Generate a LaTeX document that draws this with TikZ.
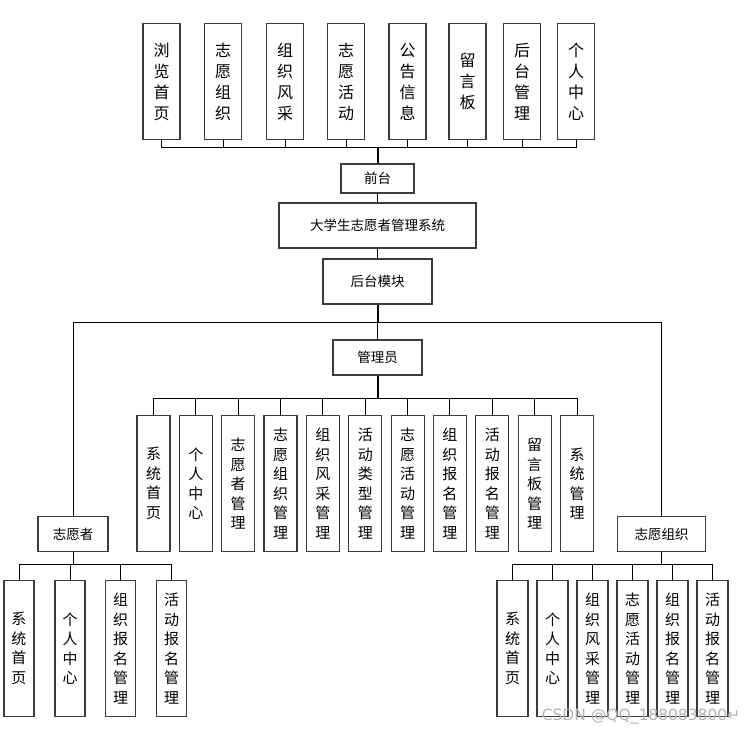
\documentclass[tikz,border=0pt]{standalone}
\usepackage{fontspec}
\newfontfamily\cjk{Noto Sans CJK SC}
\newfontfamily\markfont{DejaVu Sans}
\usepackage{tikz}
\tikzset{>=latex}
\definecolor{boxline}{RGB}{60,60,60}
\definecolor{watermark}{RGB}{180,180,180}

\begin{document}
\begin{tikzpicture}[x=1pt,y=-1pt]
    \tikzset{
        hbox/.style={draw=boxline, line width=1.2pt, fill=white, inner sep=0pt, font=\cjk\fontsize{13.5}{15}\selectfont},
        vbox/.style={draw=boxline, line width=1.2pt, fill=white, inner sep=0pt, anchor=north, align=center},
        frontbox/.style={vbox, minimum width=37, minimum height=116, font=\cjk\fontsize{16}{21}\selectfont},
        adminbox/.style={vbox, minimum width=33, minimum height=136, font=\cjk\fontsize{15}{19.5}\selectfont},
        lowbox/.style={vbox, minimum width=30, minimum height=136, font=\cjk\fontsize{15}{19.5}\selectfont},
        link/.style={line width=1pt},
        trunk/.style={line width=2pt},
    }
    \useasboundingbox (0,0) rectangle (750,736);

    % front end
    \foreach \x/\txt [count=\i] in {161.5/浏\\览\\首\\页, 223/志\\愿\\组\\织, 285/组\\织\\风\\采, 346/志\\愿\\活\\动,
        407.5/公\\告\\信\\息, 467.5/留\\言\\板, 522/后\\台\\管\\理, 576/个\\人\\中\\心}
        \node[frontbox] (front\i) at (\x, 23) {\txt};
    \node[hbox, minimum width=73, minimum height=29] (qiantai) at (377.5, 178.5) {前台};
    \node[hbox, minimum width=197, minimum height=45] (system) at (377.5, 225.5) {大学生志愿者管理系统};
    \node[hbox, minimum width=109, minimum height=45] (backend) at (377.5, 281.5) {后台模块};

    % back end roles
    \node[hbox, minimum width=89, minimum height=35] (admin) at (377.5, 357.5) {管理员};
    \node[hbox, minimum width=70, minimum height=35] (volunteer) at (73, 534) {志愿者};
    \node[hbox, minimum width=88, minimum height=35] (org) at (661.5, 534) {志愿组织};

    \foreach \txt [count=\i] in {系\\统\\首\\页, 个\\人\\中\\心, 志\\愿\\者\\管\\理, 志\\愿\\组\\织\\管\\理,
        组\\织\\风\\采\\管\\理, 活\\动\\类\\型\\管\\理, 志\\愿\\活\\动\\管\\理, 组\\织\\报\\名\\管\\理,
        活\\动\\报\\名\\管\\理, 留\\言\\板\\管\\理, 系\\统\\管\\理}
        \node[adminbox] (adm\i) at (153.5+42.35*\i-42.35, 415) {\txt};
    \foreach \x/\txt [count=\i] in {19/系\\统\\首\\页, 70/个\\人\\中\\心, 120.5/组\\织\\报\\名\\管\\理, 171.5/活\\动\\报\\名\\管\\理}
        \node[lowbox] (vol\i) at (\x, 580) {\txt};
    \foreach \txt [count=\i] in {系\\统\\首\\页, 个\\人\\中\\心, 组\\织\\风\\采\\管\\理, 志\\愿\\活\\动\\管\\理,
        组\\织\\报\\名\\管\\理, 活\\动\\报\\名\\管\\理}
        \node[lowbox, minimum width=31] (org\i) at (472.5+40*\i, 580) {\txt};

    % connectors
    \draw[trunk] (qiantai.north) -- ++(0,-16) coordinate (frontbus);
    \foreach \i in {1,...,8}
        \draw[link] (frontbus) -| (front\i.south);
    \draw[link] (qiantai) -- (system);
    \draw[link] (system) -- (backend);
    \draw[trunk] (backend.south) -- ++(0,18) coordinate (backbus);
    \draw[link] (backbus) -- (admin.north);
    \draw[link] (volunteer.north) |- (backbus) -| (org.north);
    \draw[trunk] (admin.south) -- ++(0,23) coordinate (adminbus);
    \foreach \i in {1,...,11}
        \draw[link] (adminbus) -| (adm\i.north);
    \draw[link] (volunteer.south) -- ++(0,12) coordinate (volbus);
    \foreach \i in {1,...,4}
        \draw[link] (volbus) -| (vol\i.north);
    \draw[link] (org.south) -- ++(0,12) coordinate (orgbus);
    \foreach \i in {1,...,6}
        \draw[link] (orgbus) -| (org\i.north);

    \node[text=watermark, font=\markfont\fontsize{15.5}{17}\selectfont, inner sep=0pt] (mark) at (641, 717) {CSDN @QQ\_188083800↵};
\end{tikzpicture}
\end{document}
